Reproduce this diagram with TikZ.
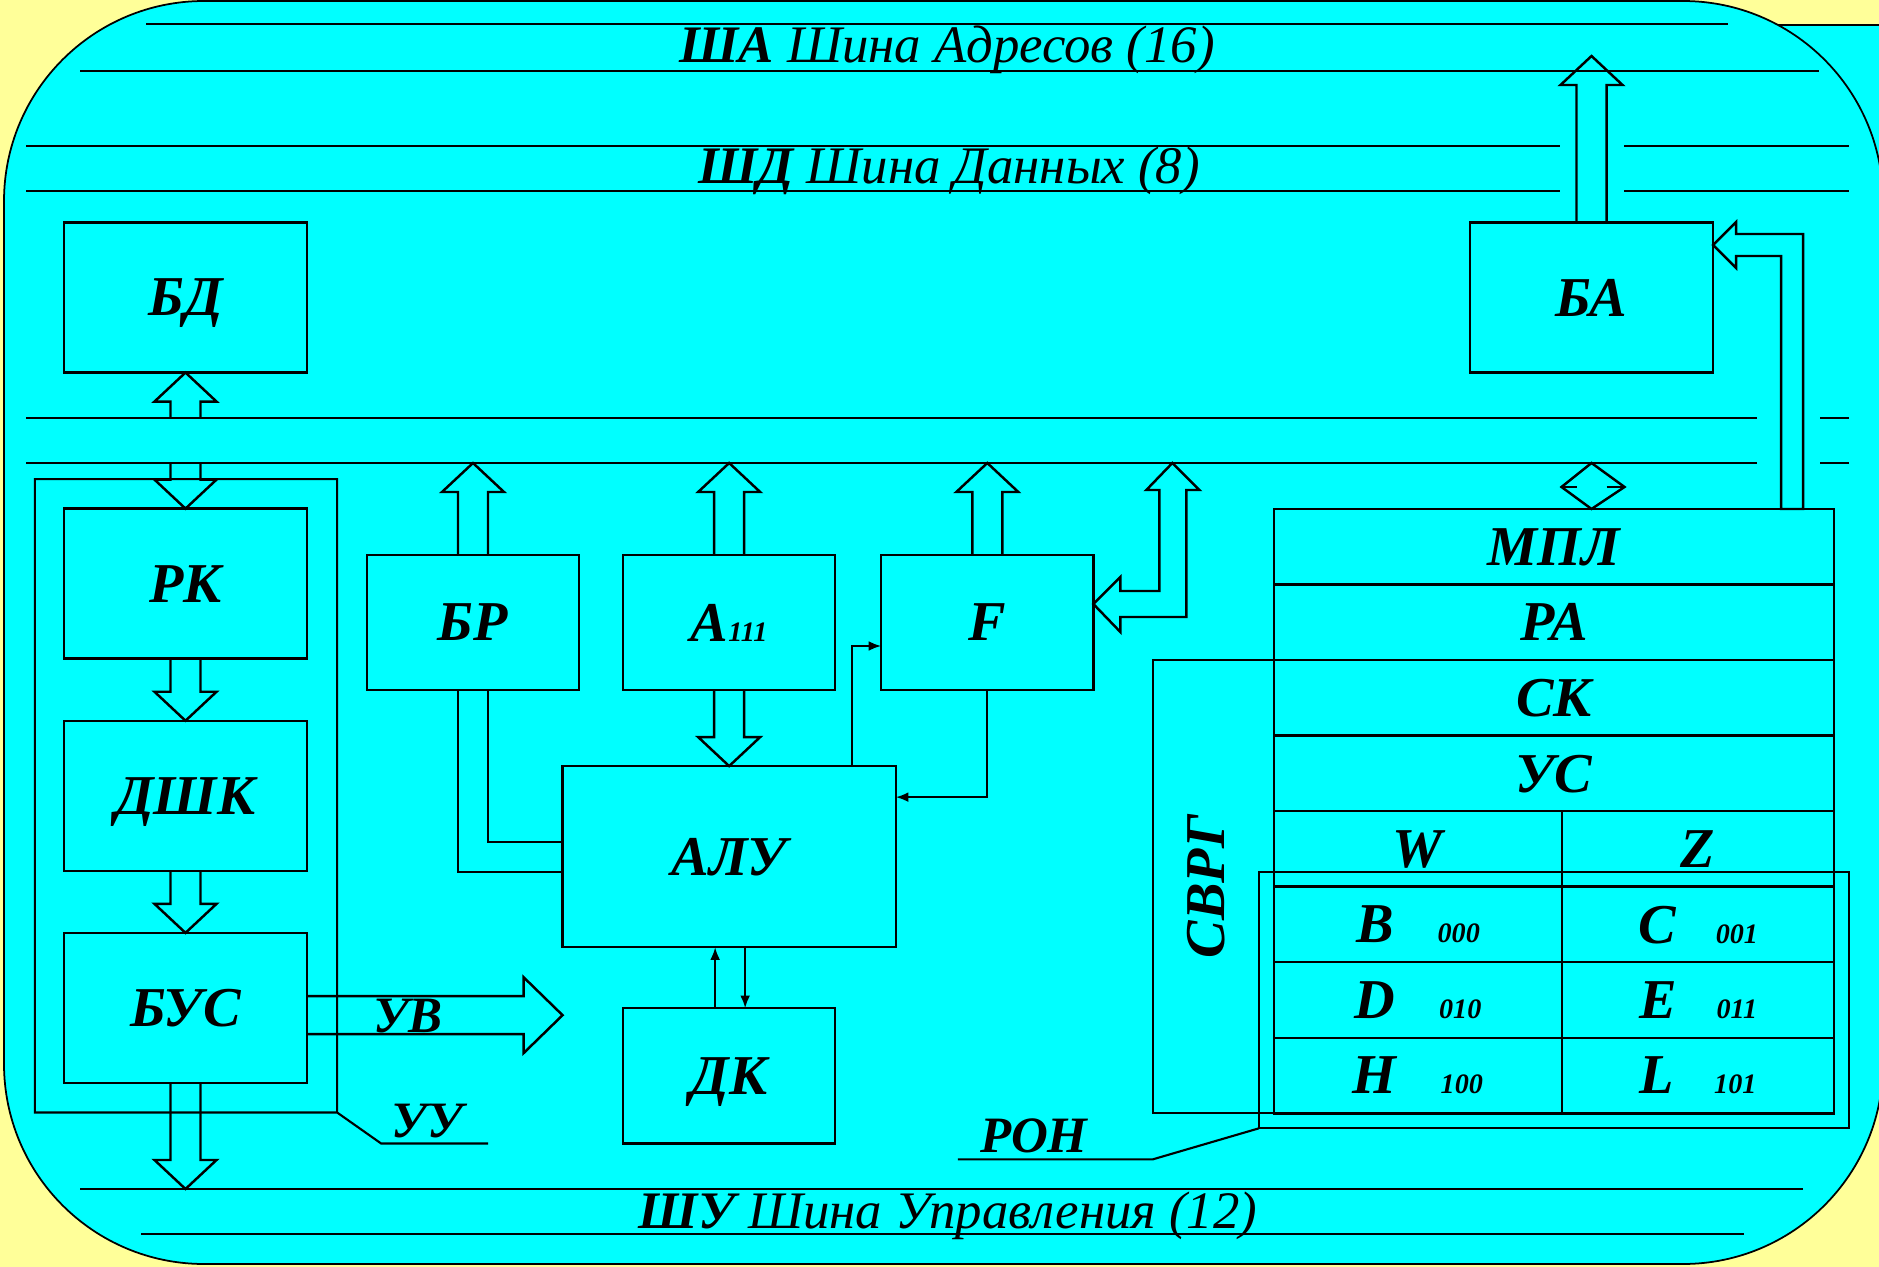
\documentclass[tikz,border=0pt]{standalone}
\usepackage{fontspec}
\setmainfont{Liberation Serif}
\usetikzlibrary{arrows.meta,positioning,calc}

\definecolor{paper}{RGB}{255,255,153}
\definecolor{panel}{RGB}{0,255,255}

\newcommand{\unitfont}{\fontsize{16}{18}\selectfont\bfseries\itshape}
\newcommand{\busfont}{\fontsize{15}{17}\selectfont\itshape}
\newcommand{\sigfont}{\fontsize{14.5}{17}\selectfont\bfseries\itshape}
\newcommand{\codefont}{\fontsize{8}{9}\selectfont\bfseries\itshape}
\newcommand{\shaftw}{0.15cm}
\newcommand{\headw}{0.31cm}
\newcommand{\headl}{0.29cm}

% hollow bus arrow from #1 to tip #2
\newcommand{\fatv}[2]{%
  \draw[fat] let \p1=#1, \p2=#2, \p3=($#2!\headl!#1$) in
    (\x1-\shaftw,\y1) -- (\x1-\shaftw,\y3) -- (\x1-\headw,\y3) -- (\x1,\y2)
    -- (\x1+\headw,\y3) -- (\x1+\shaftw,\y3) -- (\x1+\shaftw,\y1);}
\newcommand{\fath}[2]{%
  \draw[fat] let \p1=#1, \p2=#2, \p3=($#2!\headl!#1$) in
    (\x1,\y1-\shaftw) -- (\x3,\y1-\shaftw) -- (\x3,\y1-\headw) -- (\x2,\y1)
    -- (\x3,\y1+\headw) -- (\x3,\y1+\shaftw) -- (\x1,\y1+\shaftw);}

\tikzset{
  unit/.style={draw, line width=0.7pt, inner sep=0pt, outer sep=0pt,
    text depth=0pt, font=\unitfont},
  blk/.style={unit, minimum width=2.43cm, minimum height=1.5cm},
  reg/.style={unit, minimum width=2.12cm, minimum height=1.35cm},
  cell/.style={unit, minimum width=5.6cm, minimum height=0.755cm},
  lcell/.style={unit, minimum width=2.88cm, minimum height=0.755cm},
  rcell/.style={unit, minimum width=2.72cm, minimum height=0.755cm},
  frame/.style={line width=0.6pt},
  bus/.style={line width=0.8pt},
  fat/.style={line width=0.7pt, line join=miter},
  wire/.style={line width=0.6pt},
  link/.style={wire, -{Latex[length=3.6pt,width=2.8pt]}},
  sig/.style={font=\sigfont, inner sep=0pt},
  buslbl/.style={font=\busfont, inner sep=0pt, anchor=base}
}

\begin{document}
\begin{tikzpicture}[x=0.01cm, y=-0.01cm, node distance=0.62cm and 0.44cm]
  \useasboundingbox (0,0) rectangle (1879,1267);
  \fill[paper] (0,0) rectangle (1879,1267);
  \fill[panel] (1500,25) rectangle (1879,700);
  \draw[line width=0.4pt] (1500,25) -- (1879,25);
  \draw[line width=0.5pt, fill=panel, rounded corners=2cm] (4,1) rectangle (1883,1264);

  % buses
  \coordinate (ib1) at (26,418);
  \coordinate (ib2) at (26,463);
  \coordinate (shu) at (80,1189);
  \coordinate (batip) at (1592,56);
  \draw[bus] (146,24) -- (1728,24);
  \draw[bus] (80,71) -- (1819,71);
  \draw[bus] (26,146) -- (1560,146) (1624,146) -- (1849,146);
  \draw[bus] (26,191) -- (1560,191) (1624,191) -- (1849,191);
  \draw[bus] (ib1) -- (1757,418) (1820,418) -- (1849,418);
  \draw[bus] (ib2) -- (1757,463) (1820,463) -- (1849,463);
  \draw[bus] (shu) -- (1803,1189);
  \draw[bus] (141,1234) -- (1744,1234);
  \node[buslbl] (sa) at (947,63) {\textbf{ША} Шина Адресов (16)};
  \node[buslbl] (sd) at (949,184) {\textbf{ШД} Шина Данных (8)};
  \node[buslbl] (su) at (948,1228) {\textbf{ШУ} Шина Управления (12)};

  % control unit
  \node[blk] (bd) at (185.5,297.5) {БД};
  \node[blk, below=1.36cm of bd] (rk) {РК};
  \node[blk, below=of rk] (dshk) {ДШК};
  \node[blk, below=of dshk] (bus) {БУС};
  \draw[frame] ($(rk.north west)+(-29,-29.5)$) rectangle ($(bus.south east)+(30,29.5)$)
    -- ++(44,31) -- ++(107,0);
  \node[sig, anchor=base] (uu) at (427,1137) {УУ};

  % ALU block
  \node[reg] (br) at (473,622.5) {БР};
  \node[reg, right=of br] (acc) {A{\codefont 111}};
  \node[reg, right=0.46cm of acc] (fl) {F};
  \node[unit, minimum width=3.33cm, minimum height=1.81cm, below=0.76cm of acc] (alu) {АЛУ};
  \node[reg, below=0.61cm of alu] (dk) {ДК};
  \node[blk] (ba) at (1591.5,297.5) {БА};

  % registers
  \node[cell] (mpl) at (1554,546.75) {МПЛ};
  \node[cell, below=0pt of mpl] (ra) {РА};
  \node[cell, below=0pt of ra] (sk) {СК};
  \node[cell, below=0pt of sk] (us) {УС};
  \node[lcell, below right=0pt and 0pt of us.south west] (rw) {W};
  \node[rcell, right=0pt of rw] (rz) {Z};
  \node[lcell, below=0pt of rw] (rb) {B\hspace{0.44cm}{\codefont 000}};
  \node[rcell, below=0pt of rz] (rc) {C\hspace{0.4cm}{\codefont 001}};
  \node[lcell, below=0pt of rb] (rd) {D\hspace{0.44cm}{\codefont 010}};
  \node[rcell, below=0pt of rc] (re) {E\hspace{0.4cm}{\codefont 011}};
  \node[lcell, below=0pt of rd] (rh) {H\hspace{0.44cm}{\codefont 100}};
  \node[rcell, below=0pt of re] (rl) {L\hspace{0.4cm}{\codefont 101}};
  \draw[frame] (sk.north west) -- ++(-121,0) |- (rh.south west);
  \node[sig, font=\unitfont, rotate=90] (svrg)
    at ($(sk.north west)!0.5!(rh.south west)+(-68,0)$) {СВРГ};
  \draw[frame] ($(rb.north west)+(-15,-15)$) rectangle ($(rl.south east)+(15,15)$);
  \draw[frame] ($(rh.south west)+(-15,15)$) -- ++(-106,31) -- ++(-195,0);
  \node[sig, anchor=base] (ron) at (1034,1152) {РОН};

  % hollow arrows
  \fatv{(bd.south |- ib1)}{(bd.south)}
  \fatv{(rk.north |- ib2)}{(rk.north)}
  \fatv{(rk.south)}{(dshk.north)}
  \fatv{(dshk.south)}{(bus.north)}
  \fatv{(bus.south)}{(bus.south |- shu)}
  \fatv{(br.north)}{(br.north |- ib2)}
  \fatv{(acc.north)}{(acc.north |- ib2)}
  \fatv{(acc.south)}{(alu.north)}
  \fatv{(fl.north)}{(fl.north |- ib2)}
  \fatv{(ba.north)}{(batip)}
  \coordinate (uvtip) at ($(alu.south west)+(0,68)$);
  {\renewcommand{\shaftw}{0.19cm}\renewcommand{\headw}{0.38cm}\renewcommand{\headl}{0.39cm}
   \fath{(bus.east |- uvtip)}{(uvtip)}}
  \node[sig, anchor=base] (uv) at (408,1032) {УВ};
  \draw[fat] ($(fl.east)+(0,-18.5)$) -- ++(27,-27) -- ++(0,14) -- ++(39,0) -- ++(0,-101)
    -- ++(-13,0) -- ++(26,-27) -- ++(27,27) -- ++(-13,0) -- ++(0,127) -- ++(-66,0)
    -- ++(0,15) -- cycle;
  \draw[fat] ($(ba.east)+(0,-52.5)$) -- ++(23,-23) -- ++(0,12) -- ++(67,0) -- ++(0,275)
    -- ++(-22,0) -- ++(0,-253) -- ++(-45,0) -- ++(0,12) -- cycle;
  \draw[fat] (ba.south |- mpl.north) -- ++(33,-22) -- ++(-33,-24) -- ++(-30,24) -- cycle;
  \draw[fat] ($(ba.south |- mpl.north)+(-30,-22)$) -- ++(15,0) ++(30,0) -- ++(18,0);

  % thin connections
  \draw[wire] ($(br.south)+(-15,0)$) |- ($(alu.west)+(0,15.5)$);
  \draw[wire] ($(br.south)+(15,0)$) |- ($(alu.west)+(0,-14.5)$);
  \draw[link] ($(alu.north)+(123,0)$) |- ($(fl.west)+(0,23.5)$);
  \draw[link] (fl.south) |- ($(alu.east)+(0,-59.5)$);
  \draw[link] ($(dk.north)+(-14,0)$) -- ($(alu.south)+(-14,0)$);
  \draw[link] ($(alu.south)+(16,0)$) -- ($(dk.north)+(16,0)$);
\end{tikzpicture}
\end{document}
